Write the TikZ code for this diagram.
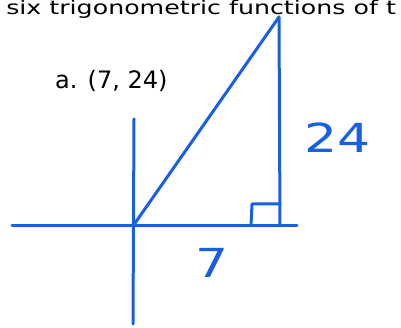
\documentclass[tikz,border=0pt]{standalone}
\usepackage{fontspec}
\setmainfont{DejaVu Sans}
\usepackage{tikz}

\definecolor{pen}{RGB}{25,95,225}
\tikzset{
    penline/.style = {draw = pen, line width = 3pt, line cap = round, line join = round},
    handlabel/.style = {text = pen, inner sep = 0pt, xscale = 1.3, font = \fontsize{40}{40}\selectfont}
}

\begin{document}
\begin{tikzpicture}[x = 1pt, y = -1pt]
        \useasboundingbox (0, 0) rectangle (401, 328);
        \node[anchor = base west, inner sep = 0pt, xscale = 1.33] (title) at (6, 15)
            {\fontsize{19}{19}\selectfont six trigonometric functions of t};
        \node[anchor = base west, inner sep = 0pt] (point) at (55, 89)
            {\fontsize{24}{24}\selectfont a. (7, 24)};
        \coordinate (O) at (133, 226);
        \coordinate (T) at (279, 17);
        \coordinate (F) at (280, 226);
        \coordinate (xl) at (12, 226);
        \coordinate (xr) at (297, 226);
        \coordinate (yt) at (134, 119);
        \coordinate (yb) at (133, 324);
        \draw[penline] (xl) -- (xr);
        \draw[penline] (yt) -- (yb);
        \draw[penline] (O) -- (T);
        \draw[penline] (T) -- (F);
        \draw[penline] (251, 226) -- (252, 204) -- (280, 204);
        \node[handlabel] (leg) at (338, 138) {24};
        \node[handlabel] (base) at (212, 263) {7};
    \end{tikzpicture}
\end{document}
